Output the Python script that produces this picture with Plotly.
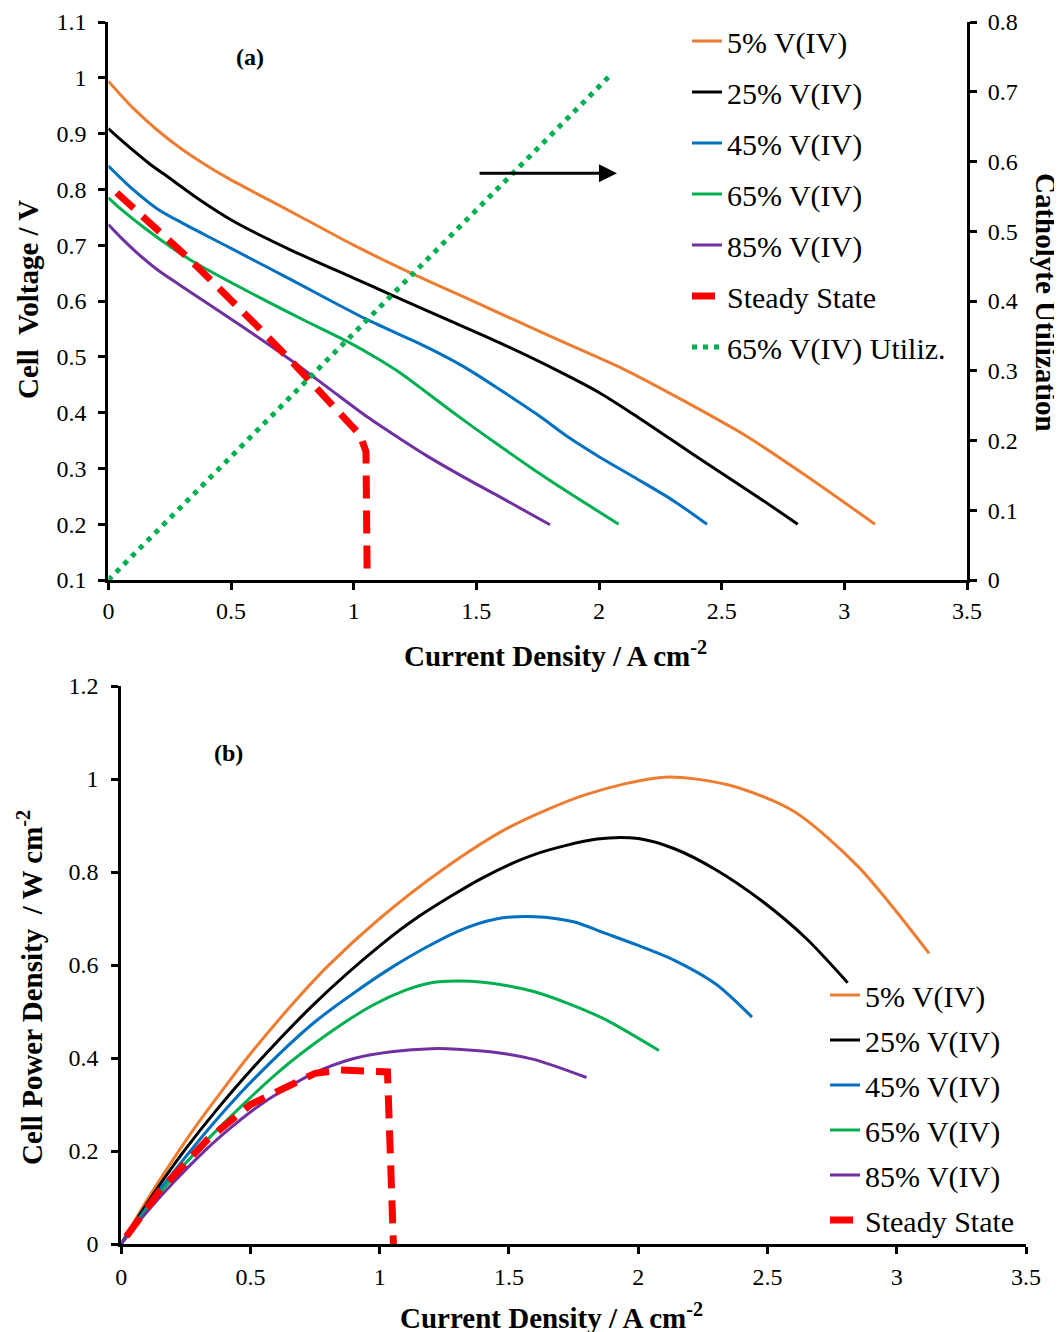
import plotly.graph_objects as go

W, H = 1062, 1332
FONT = "Liberation Serif"

# ---------------- (a) Cell voltage vs current density ----------------
names = ["5% V(IV)", "25% V(IV)", "45% V(IV)", "65% V(IV)", "85% V(IV)"]
colors = ["#ED7D31", "#000000", "#0070C0", "#00B050", "#7030A0"]

i_05 = [0, 0.1, 0.2, 0.3, 0.4, 0.5, 0.65, 0.8, 1.0, 1.243, 1.5, 1.8, 2.1, 2.35, 2.6, 2.85, 3.125]
v_05 = [0.994, 0.946, 0.906, 0.872, 0.843, 0.817, 0.782, 0.747, 0.70, 0.648, 0.597, 0.537, 0.478, 0.42, 0.358, 0.285, 0.2]

i_25 = [0, 0.05, 0.095, 0.17, 0.25, 0.37, 0.51, 0.75, 1.0, 1.148, 1.4, 1.6, 1.841, 2.0, 2.14, 2.3, 2.48, 2.65, 2.81]
v_25 = [0.909, 0.889, 0.872, 0.845, 0.82, 0.782, 0.743, 0.69, 0.641, 0.612, 0.563, 0.524, 0.473, 0.436, 0.397, 0.35, 0.297, 0.248, 0.2]

i_45 = [0, 0.1, 0.2, 0.3, 0.4, 0.51, 0.75, 1.053, 1.3, 1.45, 1.6, 1.75, 1.868, 2.0, 2.14, 2.3, 2.44]
v_45 = [0.842, 0.80, 0.765, 0.74, 0.717, 0.692, 0.637, 0.567, 0.517, 0.482, 0.44, 0.396, 0.358, 0.321, 0.285, 0.243, 0.2]

i_65 = [0, 0.05, 0.15, 0.333, 0.6, 0.8, 0.971, 1.1, 1.2, 1.3, 1.4, 1.5, 1.596, 1.73, 1.868, 2.08]
v_65 = [0.785, 0.765, 0.73, 0.674, 0.61, 0.565, 0.528, 0.496, 0.468, 0.435, 0.402, 0.37, 0.34, 0.299, 0.259, 0.2]

i_85 = [0, 0.05, 0.12, 0.2, 0.3, 0.4, 0.55, 0.74, 0.9, 1.053, 1.2, 1.3, 1.45, 1.596, 1.8]
v_85 = [0.737, 0.714, 0.685, 0.656, 0.626, 0.597, 0.553, 0.495, 0.443, 0.393, 0.35, 0.322, 0.284, 0.249, 0.199]

i_ss = [0.034, 0.333, 0.618, 0.74, 1.026, 1.05, 1.055]
v_ss = [0.794, 0.674, 0.55, 0.495, 0.36, 0.33, 0.1]

i_util = [0, 0.5, 1.0, 1.5, 2.05]
u_util = [0, 0.177, 0.354, 0.53, 0.725]

# ---------------- (b) Power density vs current density ----------------
p_05 = [0, 0.0946, 0.181, 0.262, 0.337, 0.409, 0.508, 0.598, 0.70, 0.805, 0.896, 0.967, 1.004, 0.987, 0.931, 0.812, 0.625]
p_25 = [0, 0.0445, 0.0828, 0.1437, 0.205, 0.289, 0.379, 0.518, 0.641, 0.703, 0.788, 0.838, 0.871, 0.872, 0.850, 0.805, 0.737, 0.657, 0.562]
p_45 = [0, 0.08, 0.153, 0.222, 0.287, 0.353, 0.478, 0.597, 0.672, 0.699, 0.704, 0.693, 0.669, 0.642, 0.61, 0.559, 0.488]
p_65 = [0, 0.038, 0.11, 0.224, 0.366, 0.452, 0.513, 0.546, 0.562, 0.5655, 0.563, 0.555, 0.543, 0.517, 0.484, 0.416]
p_85 = [0, 0.0357, 0.0822, 0.131, 0.188, 0.239, 0.304, 0.366, 0.399, 0.414, 0.42, 0.419, 0.412, 0.397, 0.358]

i_ssp = [0.02, 0.15, 0.333, 0.5, 0.75, 0.85, 1.03, 1.053]
p_ssp = [0.016, 0.115, 0.224, 0.30, 0.367, 0.374, 0.37, 0.0]

I_list = [i_05, i_25, i_45, i_65, i_85]
V_list = [v_05, v_25, v_45, v_65, v_85]
P_list = [p_05, p_25, p_45, p_65, p_85]

fig = go.Figure()

for k in range(5):
    fig.add_trace(go.Scatter(
        x=I_list[k], y=V_list[k], mode="lines", name=names[k],
        line=dict(color=colors[k], width=3, shape="spline", smoothing=0.8),
        xaxis="x", yaxis="y", legend="legend", legendgroup="a%d" % k))
fig.add_trace(go.Scatter(
    x=i_ss, y=v_ss, mode="lines", name="Steady State",
    line=dict(color="#FF0000", width=7, dash="23px,12px"),
    xaxis="x", yaxis="y", legend="legend", legendgroup="a5"))
fig.add_trace(go.Scatter(
    x=i_util, y=u_util, mode="lines", name="65% V(IV) Utiliz.",
    line=dict(color="#00B050", width=5, dash="5px,6px"),
    xaxis="x", yaxis="y2", legend="legend", legendgroup="a6"))

for k in range(5):
    fig.add_trace(go.Scatter(
        x=I_list[k], y=P_list[k], mode="lines", name=names[k],
        line=dict(color=colors[k], width=3, shape="spline", smoothing=0.8),
        xaxis="x2", yaxis="y3", legend="legend2", legendgroup="b%d" % k))
fig.add_trace(go.Scatter(
    x=i_ssp, y=p_ssp, mode="lines", name="Steady State",
    line=dict(color="#FF0000", width=7, dash="23px,12px"),
    xaxis="x2", yaxis="y3", legend="legend2", legendgroup="b5"))

axis_common = dict(showline=True, linecolor="black", linewidth=3, ticks="outside",
                   ticklen=7, tickwidth=3, tickcolor="black", showgrid=False,
                   zeroline=False, automargin=False,
                   tickfont=dict(family=FONT, size=24, color="black"))

# the page puts the figure 8 px in from the top-left corner
OFF = 8


def px(v):
    return (v - OFF) / W


def py(v):
    return 1 - (v - OFF) / H


fig.update_layout(
    width=W, height=H,
    margin=dict(l=0, r=0, t=0, b=0, autoexpand=False),
    paper_bgcolor="white", plot_bgcolor="white",
    font=dict(family=FONT, color="black"),
    xaxis=dict(domain=[px(108.4), px(967)], range=[0, 3.5], dtick=0.5, tick0=0,
               anchor="y", ticklabelstandoff=0, **axis_common),
    yaxis=dict(domain=[py(580), py(22)], range=[0.1, 1.1], dtick=0.1, tick0=0.1,
               anchor="x", ticklabelstandoff=7, **axis_common),
    yaxis2=dict(overlaying="y", side="right", range=[0, 0.8], dtick=0.1, tick0=0,
                anchor="x", ticklabelstandoff=6, **axis_common),
    xaxis2=dict(domain=[px(121.2), px(1026)], range=[0, 3.5], dtick=0.5, tick0=0,
                anchor="y3", ticklabelstandoff=2, **axis_common),
    yaxis3=dict(domain=[py(1244), py(686)], range=[0, 1.2], dtick=0.2, tick0=0,
                anchor="x2", ticklabelstandoff=8, **axis_common),
    legend=dict(x=px(687), y=py(15), xanchor="left", yanchor="top",
                font=dict(family=FONT, size=30, color="black"),
                bgcolor="rgba(0,0,0,0)", traceorder="grouped", tracegroupgap=9),
    legend2=dict(x=px(825), y=py(969), xanchor="left", yanchor="top",
                 font=dict(family=FONT, size=30, color="black"),
                 bgcolor="rgba(0,0,0,0)", traceorder="grouped", tracegroupgap=3),
    showlegend=True,
)

ann = [
    dict(text="<b>(a)</b>", x=px(250), y=py(57), size=24, angle=0),
    dict(text="<b>(b)</b>", x=px(228), y=py(753), size=24, angle=0),
    dict(text="<b>Current Density / A cm<sup>-2</sup></b>", x=px(556), y=py(654), size=29, angle=0),
    dict(text="<b>Current Density / A cm<sup>-2</sup></b>", x=px(551), y=py(1316), size=29, angle=0),
    dict(text="<b>Cell  Voltage / V</b>", x=px(28), y=py(300), size=29, angle=-90),
    dict(text="<b>Cell Power Density  / W cm<sup>-2</sup></b>", x=px(30), y=py(988), size=29, angle=-90),
    dict(text="<b>Catholyte Utilization</b>", x=px(1046), y=py(302), size=29, angle=90),
]
for a in ann:
    fig.add_annotation(text=a["text"], x=a["x"], y=a["y"], xref="paper", yref="paper",
                       showarrow=False, textangle=a["angle"], xanchor="center", yanchor="middle",
                       font=dict(family=FONT, size=a["size"], color="black"))

fig.add_annotation(x=2.073, y=0.829, xref="x", yref="y", ax=1.507, ay=0.829,
                   axref="x", ayref="y", text="", showarrow=True, arrowhead=2,
                   arrowsize=1.2, arrowwidth=3, arrowcolor="black")

fig.write_html("out.html")
